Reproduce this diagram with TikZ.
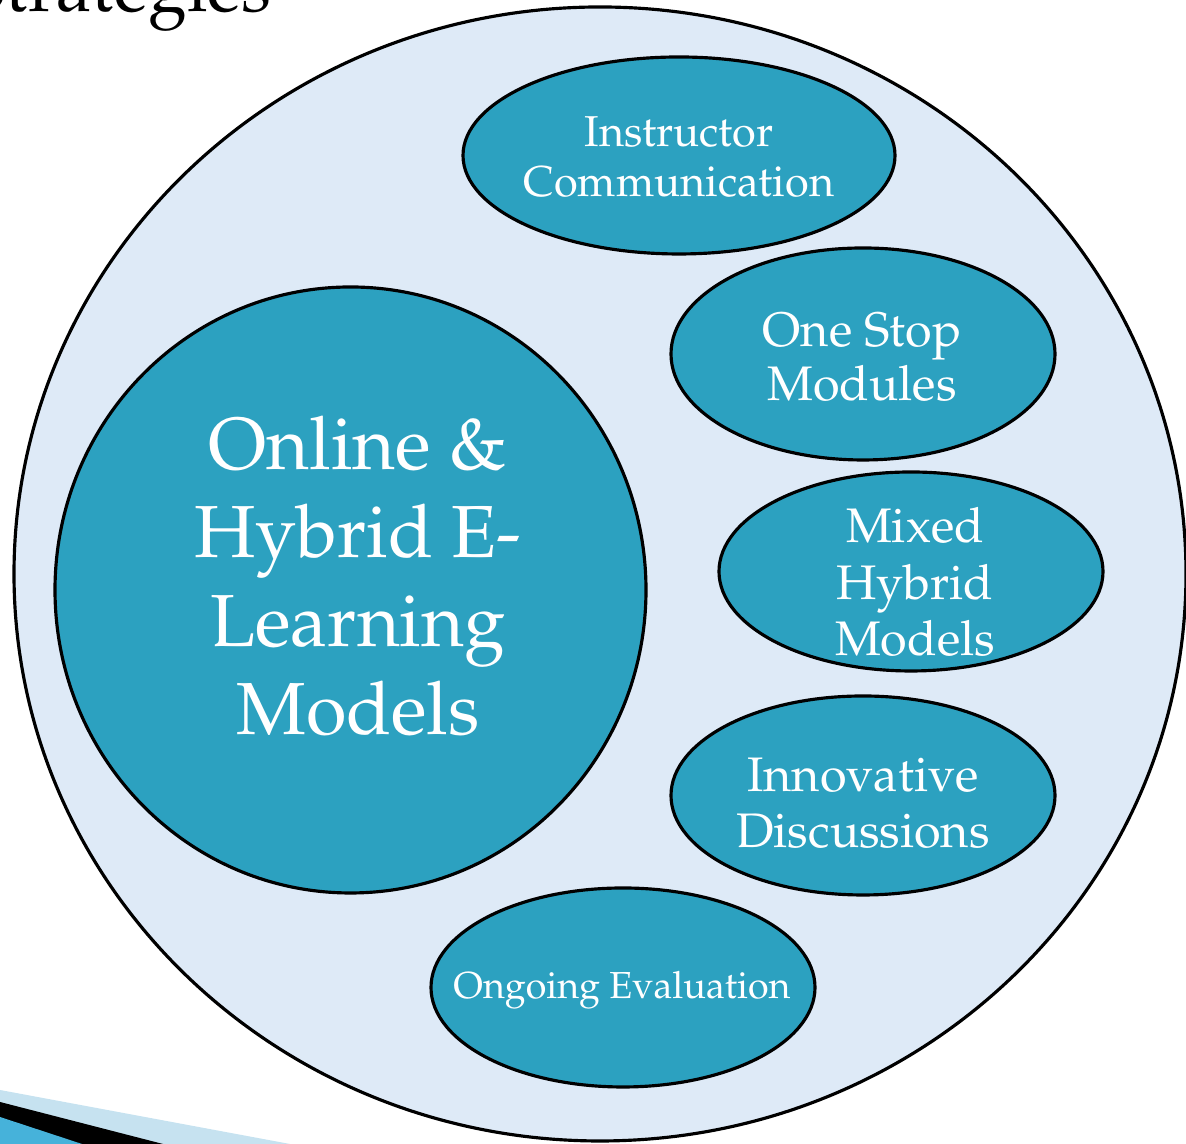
\documentclass[tikz,border=0pt]{standalone}
\usepackage[T1]{fontenc}
\renewcommand{\rmdefault}{ppl}
\usepackage{tikz}
\usetikzlibrary{shapes.geometric}
\definecolor{bubblefill}{RGB}{44,161,192}
\definecolor{paperblue}{RGB}{222,234,247}
\definecolor{bandlight}{RGB}{198,226,240}
\definecolor{bandblue}{RGB}{70,178,218}
\def\fsize#1#2{\fontsize{#1}{#2}\selectfont}

\begin{document}
\begin{tikzpicture}[
	bubble/.style={draw=black, line width=0.9pt, fill=bubblefill, ellipse, inner sep=0pt},
	bubtext/.style={text=white, align=center, inner sep=0pt}]
			%%%%% START %%%%%
			
			\clip (0, 0) rectangle (11.86, 11.44);
			
			\node[anchor=base east, inner sep=0pt, font=\fsize{20}{24}] (title) at (2.72, 11.32) {Strategies};
			
			% corner bands
			\fill[bandlight] (0, 0.54) -- (2.90, 0) -- (0, 0) -- cycle;
			\fill[black] (0, 0.42) -- (1.63, 0) -- (0, 0) -- cycle;
			\fill[bandblue] (0, 0.27) -- (0.82, 0) -- (0, 0) -- cycle;
			
			\node[draw=black, line width=0.9pt, fill=paperblue, ellipse, minimum width=11.72cm, minimum height=11.34cm] (outer) at (6.00, 5.70) {};
			
			\node[bubble, minimum width=5.91cm, minimum height=6.06cm] (main) at (3.505, 5.54) {};
			\node[bubtext, font=\fsize{21}{25.2}] (maintext) at (3.58, 5.68) {Online \&\\Hybrid E-\\Learning\\Models};
			
			\node[bubble, minimum width=4.32cm, minimum height=1.97cm] (instr) at (6.79, 9.885) {};
			\node[bubtext, font=\fsize{12.3}{14.5}] (instrtext) at (6.79, 9.87) {Instructor\\Communication};
			
			\node[bubble, minimum width=3.84cm, minimum height=2.12cm] (stop) at (8.63, 7.90) {};
			\node[bubtext, font=\fsize{13.8}{15.4}] (stoptext) at (8.62, 7.87) {One Stop\\Modules};
			
			\node[bubble, minimum width=3.84cm, minimum height=1.99cm] (mixed) at (9.11, 5.725) {};
			\node[bubtext, font=\fsize{13.8}{16.2}] (mixedtext) at (9.15, 5.62) {Mixed\\Hybrid\\Models};
			
			\node[bubble, minimum width=3.84cm, minimum height=1.99cm] (innov) at (8.63, 3.485) {};
			\node[bubtext, font=\fsize{13.8}{15.9}] (innovtext) at (8.63, 3.41) {Innovative\\Discussions};
			
			\node[bubble, minimum width=3.84cm, minimum height=1.99cm] (ongo) at (6.23, 1.565) {};
			\node[bubtext, font=\fsize{10.7}{13}] (ongotext) at (6.22, 1.54) {Ongoing Evaluation};
			
			%%%%% END %%%%%
\end{tikzpicture}
\end{document}
